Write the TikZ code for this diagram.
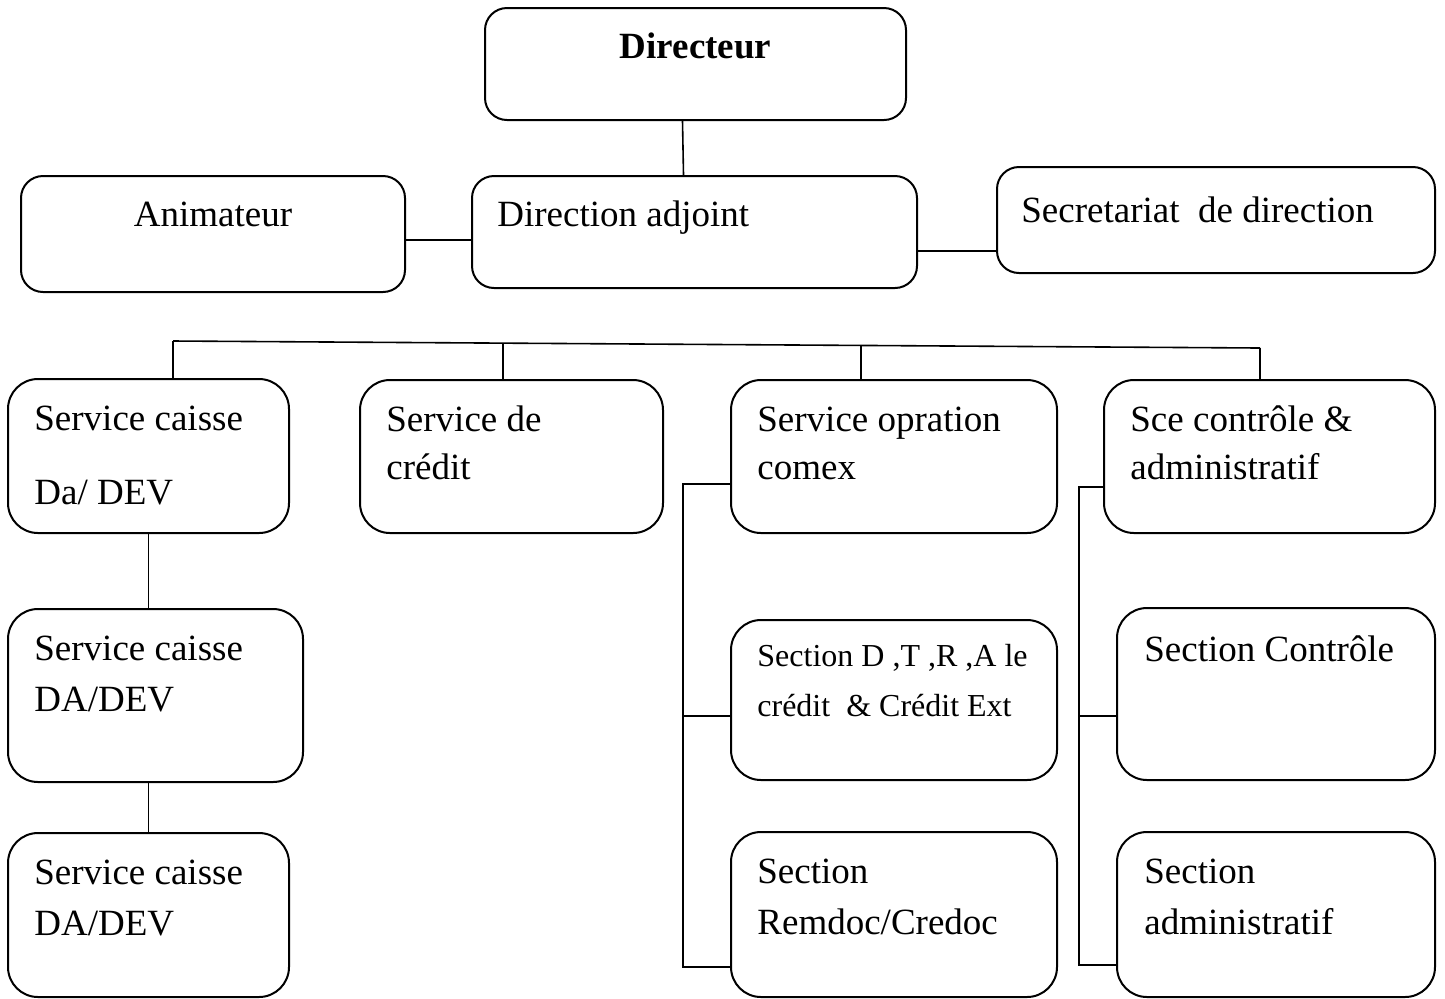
\documentclass[tikz,border=0pt]{standalone}
\usepackage{fontspec}
\setmainfont{Liberation Serif}
\usetikzlibrary{fit}

\begin{document}
\begin{tikzpicture}[
  x=0.5pt, y=-0.5pt,
  box/.style={draw, rounded corners=15pt, inner sep=0pt, line width=1pt},
  topbox/.style={box, rounded corners=11pt},
  txt/.style={anchor=base west, align=left, inner sep=0pt, font=\fontsize{18.5}{24}\selectfont},
  small/.style={txt, font=\fontsize{16}{25}\selectfont},
  link/.style={draw, line width=0.8pt}]
\clip (0,0) rectangle (1445,998);
% direction (text anchored at the base of its last line)
\node[topbox, fit={(485,8) (906,120)}] (dir) {};
\node[txt, anchor=base, font=\fontsize{18.5}{24}\selectfont\bfseries] (t-dir) at ([shift={(0,51)}]dir.north) {Directeur};
\node[topbox, fit={(21,176) (405,292)}] (anim) {};
\node[txt, anchor=base] (t-anim) at ([shift={(0,51)}]anim.north) {Animateur};
\node[topbox, fit={(472,176) (917,288)}] (adj) {};
\node[txt] (t-adj) at ([shift={(26,51)}]adj.north west) {Direction adjoint};
\node[topbox, fit={(997,167) (1435,273)}] (sec) {};
\node[txt] (t-sec) at ([shift={(25,56)}]sec.north west) {Secretariat~ de direction};
% services
\node[box, fit={(8,379) (289,533)}] (cai1) {};
\node[txt] (t-cai1) at ([shift={(27,126)}]cai1.north west) {Service caisse\\[13pt]Da/ DEV};
\node[box, fit={(360,380) (663,533)}] (cred) {};
\node[txt] (t-cred) at ([shift={(27,100)}]cred.north west) {Service de\\crédit};
\node[box, fit={(731,380) (1057,533)}] (comex) {};
\node[txt] (t-comex) at ([shift={(27,100)}]comex.north west) {Service opration\\comex};
\node[box, fit={(1104,380) (1435,533)}] (sce) {};
\node[txt] (t-sce) at ([shift={(27,100)}]sce.north west) {Sce contrôle \&\\administratif};
% caisse column
\node[box, fit={(8,609) (303,782)}] (cai2) {};
\node[txt] (t-cai2) at ([shift={(27,103)}]cai2.north west) {Service caisse\\[1.5pt]DA/DEV};
\node[box, fit={(8,833) (289,997)}] (cai3) {};
\node[txt] (t-cai3) at ([shift={(27,103)}]cai3.north west) {Service caisse\\[1.5pt]DA/DEV};
% comex column
\node[box, fit={(731,620) (1057,780)}] (secd) {};
\node[small] (t-secd) at ([shift={(27,97)}]secd.north west) {Section D ,T ,R ,A le\\crédit~ \& Crédit Ext};
\node[box, fit={(731,832) (1057,997)}] (remdoc) {};
\node[txt] (t-remdoc) at ([shift={(27,103)}]remdoc.north west) {Section\\[1.5pt]Remdoc/Credoc};
% controle column
\node[box, fit={(1117,608) (1435,780)}] (ctrl) {};
\node[txt] (t-ctrl) at ([shift={(28,54)}]ctrl.north west) {Section Contrôle};
\node[box, fit={(1117,832) (1435,997)}] (admin) {};
\node[txt] (t-admin) at ([shift={(28,103)}]admin.north west) {Section\\[1.5pt]administratif};
% links
\draw[link] ([xshift=-6.5pt]dir.south) -- ([xshift=-5.5pt]adj.north);
\draw[link] ([yshift=-3pt]anim.east) -- ([yshift=-3pt]anim.east -| adj.west);
\draw[link] ([yshift=-9.5pt]adj.east) -- ([yshift=-9.5pt]adj.east -| sec.west);
\coordinate (b1) at (173,341);
\coordinate (b2) at (503,343);
\coordinate (b3) at (861,345.5);
\coordinate (b4) at (1260,348);
\draw[link] (b1) -- (b4);
\draw[link] (b1) -- (b1 |- cai1.north);
\draw[link] (b2) -- (b2 |- cred.north);
\draw[link] (b3) -- (b3 |- comex.north);
\draw[link] (b4) -- (b4 |- sce.north);
\draw[link] (cai1.south) -- (cai1.south |- cai2.north);
\draw[link] (cai2.south -| cai1.south) -- (cai3.north -| cai1.south);
\coordinate (c3a) at (683,484);
\coordinate (c3b) at (683,716);
\coordinate (c3c) at (683,967);
\draw[link] (c3a -| comex.west) -- (c3a) -- (c3c) -- (c3c -| remdoc.west);
\draw[link] (c3b) -- (c3b -| secd.west);
\coordinate (c4a) at (1079,487);
\coordinate (c4b) at (1079,716);
\coordinate (c4c) at (1079,965);
\draw[link] (c4a -| sce.west) -- (c4a) -- (c4c) -- (c4c -| admin.west);
\draw[link] (c4b) -- (c4b -| ctrl.west);
\end{tikzpicture}
\end{document}
